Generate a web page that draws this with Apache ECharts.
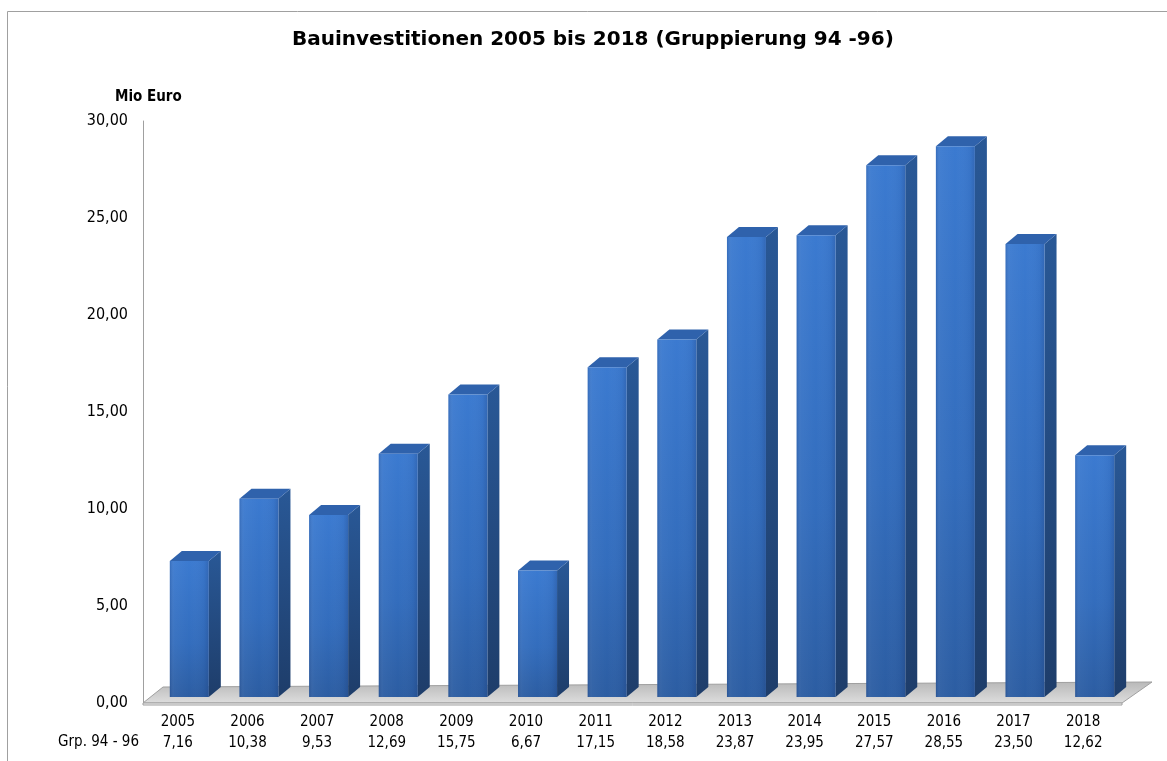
<!DOCTYPE html>
<html>
<head>
<meta charset="utf-8">
<script src="https://cdn.jsdelivr.net/npm/echarts@6/dist/echarts.min.js"></script>
<style>
html,body{margin:0;padding:0;background:#fff;}
#chart{width:1167px;height:761px;}
</style>
</head>
<body>
<div id="chart"></div>
<script>
const categories = ['2005','2006','2007','2008','2009','2010','2011','2012','2013','2014','2015','2016','2017','2018'];
const values = [7.16, 10.38, 9.53, 12.69, 15.75, 6.67, 17.15, 18.58, 23.87, 23.95, 27.57, 28.55, 23.50, 12.62];
const rowLabel = 'Grp. 94 - 96';
const titleText = 'Bauinvestitionen 2005 bis 2018 (Gruppierung 94 -96)';
const unitText = 'Mio Euro';
const yTicks = [0, 5, 10, 15, 20, 25, 30];

const fmt = v => v.toFixed(2).replace('.', ',');
const FONT = '"DejaVu Sans Condensed", "Open Sans", sans-serif';
const TFONT = '"DejaVu Sans", Verdana, sans-serif';

const chart = echarts.init(document.getElementById('chart'));

function renderFloor(params, api) {
  const band = api.size([1, 0])[0];
  const first = api.coord([0, 0]);
  const last = api.coord([categories.length - 1, 0]);
  const xl = first[0] - band / 2;
  const xr = last[0] + band / 2 + 4;
  const y = first[1];
  const back = [[xl + 20, y - 16], [xr + 30, y - 21]];
  return {
    type: 'group',
    children: [
      {
        type: 'polygon',
        shape: { points: [[xl, y], [xr, y], back[1], back[0]] },
        style: {
          fill: new echarts.graphic.LinearGradient(0, 0, 0, 1, [
            { offset: 0, color: '#b8b8b8' },
            { offset: 1, color: '#dedede' }
          ]),
          stroke: '#a0a0a0', lineWidth: 1
        }
      },
      {
        type: 'polygon',
        shape: { points: [[xl, y], [xr, y], [xr, y + 2], [xl, y + 2]] },
        style: { fill: '#f2f2f2', stroke: '#a0a0a0', lineWidth: 1 }
      }
    ]
  };
}

function renderBar(params, api) {
  const i = api.value(0);
  const v = api.value(1);
  const band = api.size([1, 0])[0];
  const p0 = api.coord([i, 0]);
  const p1 = api.coord([i, v]);
  const w = band * 0.56;
  const cx = p0[0] + 11.5;
  const xl = cx - w / 2, xr = cx + w / 2;
  const yb = p0[1] - 6;
  const yt = p1[1] - 3;
  const dx = 12, dy = -10;
  return {
    type: 'group',
    children: [
      {
        type: 'polygon',
        shape: { points: [[xr, yt], [xr + dx, yt + dy], [xr + dx, yb + dy], [xr, yb]] },
        style: { fill: new echarts.graphic.LinearGradient(0, 0, 0, 1, [
          { offset: 0, color: '#295896' }, { offset: 1, color: '#1e3d6a' }
        ]) }
      },
      {
        type: 'polygon',
        shape: { points: [[xl, yt], [xl + dx, yt + dy], [xr + dx, yt + dy], [xr, yt]] },
        style: { fill: '#2f62ac' }
      },
      {
        type: 'rect',
        shape: { x: xl, y: yt, width: w, height: yb - yt },
        style: { fill: new echarts.graphic.LinearGradient(0, 0, 0, 1, [
          { offset: 0, color: '#3b7ad0' }, { offset: 0.6, color: '#336dbd' }, { offset: 1, color: '#2c5da2' }
        ]) }
      },
      {
        type: 'rect',
        shape: { x: xl, y: yt, width: w, height: yb - yt },
        style: { fill: new echarts.graphic.LinearGradient(0, 0, 1, 0, [
          { offset: 0, color: 'rgba(20,40,90,0.18)' }, { offset: 0.12, color: 'rgba(255,255,255,0.04)' },
          { offset: 0.5, color: 'rgba(255,255,255,0.0)' }, { offset: 0.88, color: 'rgba(20,40,90,0.06)' },
          { offset: 1, color: 'rgba(20,40,90,0.22)' }
        ]) }
      }
    ]
  };
}

chart.setOption({
  animation: false,
  backgroundColor: '#ffffff',
  grid: { left: 143, right: 49, top: 121, bottom: 58, containLabel: false },
  xAxis: {
    type: 'category',
    data: categories,
    axisLine: { show: false },
    axisTick: { show: false },
    axisLabel: {
      margin: 9,
      formatter: (val, idx) => '{y|' + val + '}\n{v|' + fmt(values[idx]) + '}',
      rich: {
        y: { fontFamily: FONT, fontSize: 15, color: '#000', lineHeight: 21 },
        v: { fontFamily: FONT, fontSize: 15, color: '#000', lineHeight: 21 }
      }
    }
  },
  yAxis: {
    type: 'value',
    min: yTicks[0], max: yTicks[yTicks.length - 1], interval: 5,
    axisLine: { show: true, lineStyle: { color: '#a0a0a0', width: 1 } },
    axisTick: { show: false },
    splitLine: { show: false },
    axisLabel: {
      margin: 15,
      padding: [4, 0, 0, 0],
      formatter: v => fmt(v),
      fontFamily: FONT, fontSize: 16, color: '#000'
    }
  },
  graphic: [
    { type: 'rect', shape: { x: 7.5, y: 11.5, width: 1300, height: 900 }, style: { fill: 'none', stroke: '#a0a0a0', lineWidth: 1 }, silent: true, z: -10 },
    { type: 'text', x: 292, y: 40, style: { text: titleText, fontFamily: TFONT, fontSize: 20, fontWeight: 'bold', fill: '#000', align: 'left', verticalAlign: 'middle' } },
    { type: 'text', x: 115, y: 97, style: { text: unitText, fontFamily: FONT, fontSize: 15, fontWeight: 'bold', fill: '#000', align: 'left', verticalAlign: 'middle' } },
    { type: 'text', x: 139, y: 742, style: { text: rowLabel, fontFamily: FONT, fontSize: 15, fill: '#000', align: 'right', verticalAlign: 'middle' } }
  ],
  series: [
    { type: 'custom', renderItem: renderFloor, data: [[0, 0]], z: 1, silent: true, clip: false },
    { type: 'custom', renderItem: renderBar, data: values.map((v, i) => [i, v]), z: 2, clip: false }
  ]
});
</script>
</body>
</html>
